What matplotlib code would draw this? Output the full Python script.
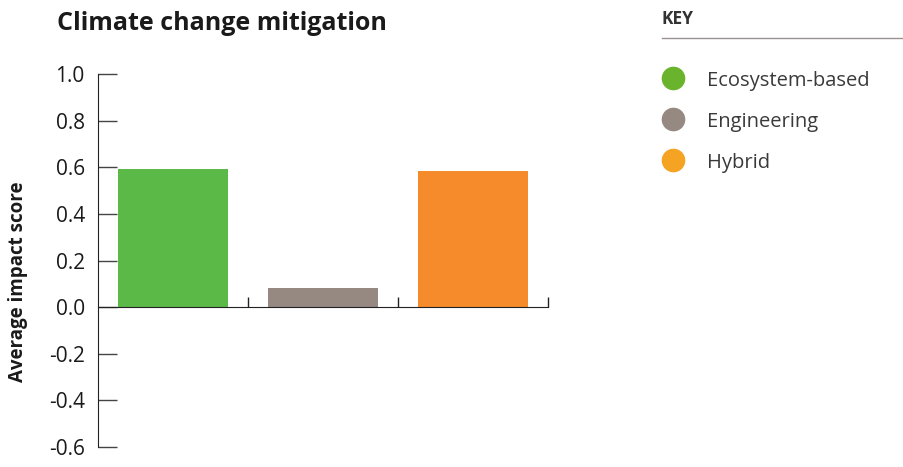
import matplotlib.pyplot as plt
from matplotlib.lines import Line2D

plt.rcParams["font.family"] = ["Open Sans", "DejaVu Sans"]

categories = ["Ecosystem-based", "Engineering", "Hybrid"]
scores = [0.592, 0.082, 0.584]
bar_colors = ["#5bba47", "#958982", "#f68b2c"]
key_colors = ["#6ab42d", "#958982", "#f5a323"]
y_ticks = [-0.6, -0.4, -0.2, 0.0, 0.2, 0.4, 0.6, 0.8, 1.0]

fig = plt.figure(figsize=(9.04, 4.67), dpi=100)
ax = fig.add_axes([0.1084, 0.0428, 0.4978, 0.7987])

x = range(len(categories))
ax.bar(x, scores, width=0.73, color=bar_colors)

ax.set_xlim(-0.5, 2.5)
ax.set_ylim(-0.6, 1.0)
ax.set_yticks(y_ticks)
ax.set_yticklabels([f"{v:.1f}" for v in y_ticks], fontsize=15, color="#1a1a1a")
ax.set_xticks([0.5, 1.5, 2.5])
ax.set_xticklabels([])

for s in ("top", "right"):
    ax.spines[s].set_visible(False)
ax.spines["bottom"].set_position(("data", 0))
ax.spines["left"].set_color("#222222")
ax.spines["bottom"].set_color("#222222")
ax.tick_params(axis="y", direction="in", length=14, width=1, color="#444444", pad=9.5)
ax.tick_params(axis="x", direction="in", length=7.5, width=1, color="#222222")

ax.set_ylabel("Average impact score", fontsize=13.5, fontweight="bold",
              color="#1a1a1a")
ax.yaxis.set_label_coords(-0.155, 0.442)

fig.text(57 / 904, 1 - 24 / 467, "Climate change mitigation", fontsize=18,
         fontweight="bold", color="#1a1a1a", ha="left", va="center")

# Key panel on the right
fig.text(662 / 904, 1 - 19 / 467, "KEY", fontsize=12.5, fontweight="bold",
         color="#333333", ha="left", va="center")
fig.add_artist(Line2D([662 / 904, 1.0], [1 - 38 / 467, 1 - 38 / 467],
                      color="#9a9290", lw=1))
for i, (name, col) in enumerate(zip(categories, key_colors)):
    yk = 1 - (78 + i * 41) / 467
    fig.add_artist(Line2D([673 / 904], [yk], marker="o", markersize=16,
                          markerfacecolor=col, markeredgecolor=col, lw=0))
    fig.text(707 / 904, yk - 3 / 467, name, fontsize=14.5, color="#3a3a3a",
             ha="left", va="center")

fig.savefig("out.png", dpi=100)
